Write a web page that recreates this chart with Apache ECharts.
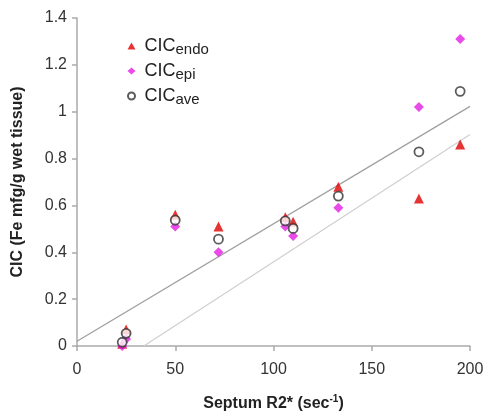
<!DOCTYPE html>
<html><head><meta charset="utf-8">
<script src="https://cdn.jsdelivr.net/npm/echarts@6/dist/echarts.min.js"></script>
<style>html,body{margin:0;padding:0;background:#fff}#c{width:485px;height:412px}</style>
</head><body><div id="c"></div>
<script>
const septumR2 = [23, 25, 50, 72, 106, 110, 133, 174, 195];
const cicEndo = [0.01, 0.07, 0.56, 0.51, 0.55, 0.53, 0.68, 0.63, 0.86];
const cicEpi  = [0.00, 0.03, 0.51, 0.40, 0.51, 0.47, 0.59, 1.02, 1.31];
const cicAve  = [0.016, 0.054, 0.537, 0.456, 0.534, 0.502, 0.64, 0.829, 1.087];
const fitUpper = [[0, 0.02], [200, 1.023]];
const fitLower = [[34, 0], [200, 0.903]];
const xTicks = [0, 50, 100, 150, 200];
const yTicks = [0, 0.2, 0.4, 0.6, 0.8, 1, 1.2, 1.4];

const pts = ys => septumR2.map((x, i) => [x, ys[i]]);
const ff = 'Liberation Sans, Arial, sans-serif';
const chart = echarts.init(document.getElementById('c'));
chart.setOption({
  animation: false,
  grid: {left: 77, right: 15, top: 18, bottom: 66, containLabel: false, outerBoundsMode: 'none'},
  legend: {
    left: 122, top: 28, orient: 'vertical', itemGap: 1, itemWidth: 8, itemHeight: 7,
    data: ['endo', 'epi', 'ave'],
    formatter: n => '{a|CIC}{b|' + n + '}',
    textStyle: {
      fontFamily: ff, color: '#222', padding: [0, 0, 0, 4],
      rich: {
        a: {fontSize: 18, fontFamily: ff, color: '#222', lineHeight: 22},
        b: {fontSize: 15, fontFamily: ff, color: '#222', verticalAlign: 'bottom', lineHeight: 14, padding: [9, 0, 0, 0]}
      }
    }
  },
  xAxis: {
    type: 'value', min: 0, max: 200, interval: 50,
    name: '{a|Septum R2* (sec}{s|-1}{a|)}', nameLocation: 'middle', nameGap: 48,
    nameTextStyle: {rich: {
      a: {fontSize: 16, fontWeight: 'bold', fontFamily: ff, color: '#222'},
      s: {fontSize: 10, fontWeight: 'bold', fontFamily: ff, color: '#222', verticalAlign: 'top', padding: [0, 0, 9, 0]}
    }},
    axisLine: {lineStyle: {color: '#aaa', width: 1.5}},
    axisTick: {lineStyle: {color: '#aaa', width: 1.5}, length: 5},
    axisLabel: {fontSize: 16, color: '#333', fontFamily: ff, margin: 16, formatter: v => xTicks.includes(v) ? String(v) : ''},
    splitLine: {show: false}
  },
  yAxis: {
    type: 'value', min: 0, max: 1.4, interval: 0.2,
    name: 'CIC (Fe mfg/g wet tissue)', nameLocation: 'middle', nameGap: 51, nameRotate: 90,
    nameTextStyle: {fontSize: 16, fontWeight: 'bold', fontFamily: ff, color: '#222'},
    axisLine: {show: true, lineStyle: {color: '#aaa', width: 1.5}},
    axisTick: {show: true, lineStyle: {color: '#aaa', width: 1.5}, length: 5},
    axisLabel: {fontSize: 16, color: '#333', fontFamily: ff, margin: 10,
      formatter: v => { const t = yTicks.find(y => Math.abs(y - v) < 1e-6); return t === undefined ? '' : String(+t.toFixed(1)); }},
    splitLine: {show: false}
  },
  series: [
    {name: 'fitU', type: 'line', data: fitUpper, symbol: 'none', lineStyle: {color: '#a0a0a0', width: 1.3}, z: 1, silent: true},
    {name: 'fitL', type: 'line', data: fitLower, symbol: 'none', lineStyle: {color: '#d0d0d0', width: 1.3}, z: 1, silent: true},
    {name: 'endo', type: 'scatter', data: pts(cicEndo), symbol: 'triangle', symbolSize: 10, itemStyle: {color: '#e00000'}, z: 3},
    {name: 'epi', type: 'scatter', data: pts(cicEpi), symbol: 'diamond', symbolSize: 10, itemStyle: {color: '#e41ee4'}, z: 4},
    {name: 'ave', type: 'scatter', data: pts(cicAve), symbol: 'circle', symbolSize: 9, itemStyle: {color: '#fff', borderColor: '#333', borderWidth: 1.8}, z: 5}
  ]
});
</script></body></html>
